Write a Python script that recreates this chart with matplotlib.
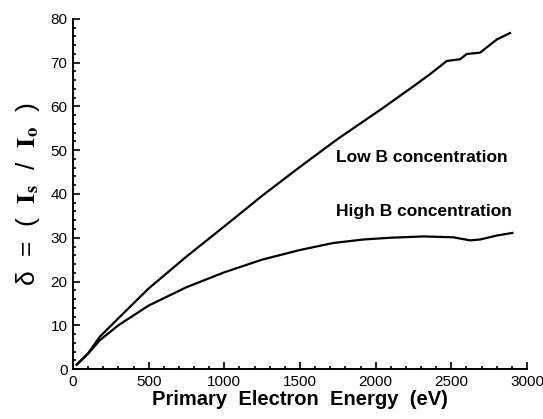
import matplotlib
matplotlib.use('Agg')
import matplotlib.pyplot as plt
from matplotlib.ticker import MultipleLocator

plt.rcParams['font.family'] = ['Liberation Sans', 'DejaVu Sans']
plt.rcParams['mathtext.fontset'] = 'stix'

# energy (eV) and delta values
low_x = [25, 100, 178, 300, 500, 750, 1000, 1250, 1500, 1750, 2029,
         2249, 2360, 2470, 2558, 2602, 2690, 2800, 2888]
low_y = [1.0, 3.6, 7.4, 11.6, 18.4, 25.7, 32.6, 39.6, 46.2, 52.6, 59.2,
         64.6, 67.4, 70.4, 70.8, 72.0, 72.3, 75.3, 76.8]

high_x = [25, 100, 178, 300, 500, 750, 1000, 1250, 1500, 1720, 1919, 2095,
          2315, 2514, 2624, 2690, 2800, 2903]
high_y = [1.0, 3.5, 6.6, 10.0, 14.5, 18.7, 22.1, 25.0, 27.2, 28.8, 29.6, 30.0,
          30.3, 30.1, 29.4, 29.6, 30.5, 31.1]

fig = plt.figure(figsize=(5.43, 4.19), dpi=100)
ax = fig.add_axes([0.1344, 0.1193, 0.8361, 0.8354])

ax.plot(low_x, low_y, color='black', lw=1.6)
ax.plot(high_x, high_y, color='black', lw=1.6)

ax.set_xlim(0, 3000)
ax.set_ylim(0, 80)
ax.spines['top'].set_visible(False)
ax.spines['right'].set_visible(False)
ax.spines['left'].set_linewidth(1.4)
ax.spines['bottom'].set_linewidth(1.4)

ax.xaxis.set_major_locator(MultipleLocator(500))
ax.xaxis.set_minor_locator(MultipleLocator(100))
ax.yaxis.set_major_locator(MultipleLocator(10))
ax.yaxis.set_minor_locator(MultipleLocator(2))
ax.tick_params(which='both', direction='in', width=1.2, labelsize=11)
ax.tick_params(which='major', length=5, pad=4)
ax.tick_params(which='minor', length=2.5)

ax.text(1740, 48.3, 'Low B concentration', fontsize=12.5, fontweight='bold',
        ha='left', va='center')
ax.text(1740, 35.9, 'High B concentration', fontsize=12.5, fontweight='bold',
        ha='left', va='center')

ax.set_xlabel('Primary  Electron  Energy  (eV)', fontsize=14.5,
              fontweight='bold', labelpad=1)
ax.set_ylabel(r'δ  =  (  $\mathbf{I}_{\mathbf{s}}$  /  $\mathbf{I}_{\mathbf{o}}$  )',
              fontsize=19, labelpad=6)

fig.savefig('out.png', dpi=100)
